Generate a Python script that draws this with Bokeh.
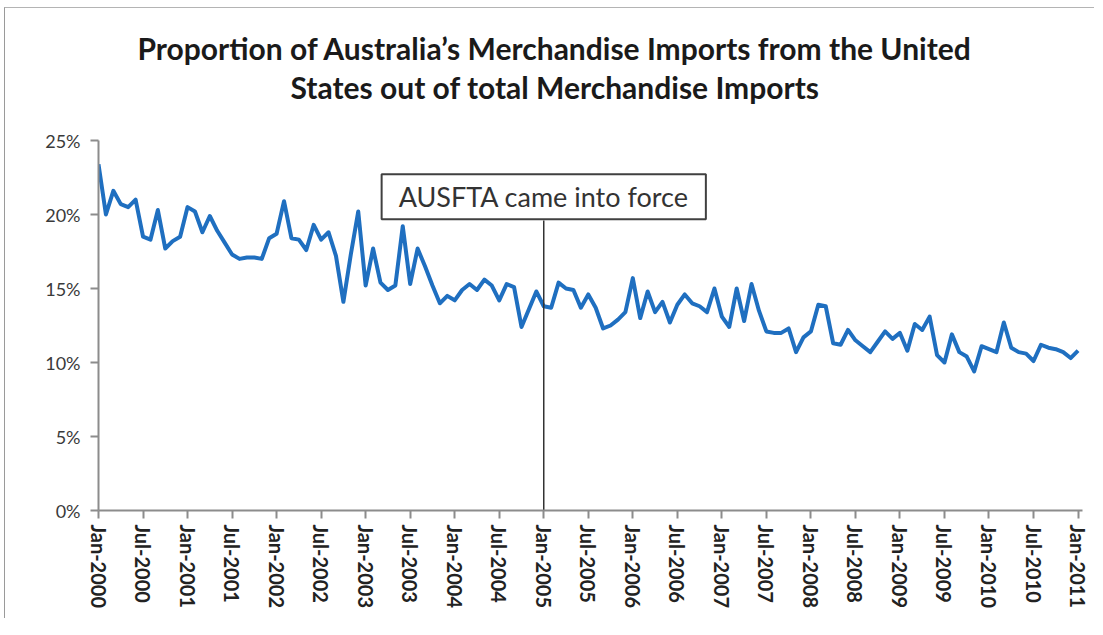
from bokeh.plotting import figure
from bokeh.models import Range1d, FixedTicker, Title, Label
from bokeh.embed import file_html
from bokeh.resources import INLINE

# ---- data (month index 0 = Jan-2000, 132 = Jan-2011) ----
months = list(range(133))
us_share_pct = [
    23.4, 20.0, 21.6, 20.7, 20.5, 21.0, 18.5, 18.3, 20.3, 17.7, 18.2, 18.5,   # 2000
    20.5, 20.2, 18.8, 19.9, 18.9, 18.1, 17.3, 17.0, 17.1, 17.1, 17.0, 18.4,   # 2001
    18.7, 20.9, 18.4, 18.3, 17.6, 19.3, 18.3, 18.8, 17.2, 14.1, 17.3, 20.2,   # 2002
    15.2, 17.7, 15.4, 14.9, 15.2, 19.2, 15.3, 17.7, 16.5, 15.2, 14.0, 14.5,   # 2003
    14.2, 14.9, 15.3, 14.9, 15.6, 15.2, 14.2, 15.3, 15.1, 12.4, 13.6, 14.8,   # 2004
    13.8, 13.7, 15.4, 15.0, 14.9, 13.7, 14.6, 13.7, 12.3, 12.5, 12.9, 13.4,   # 2005
    15.7, 13.0, 14.8, 13.4, 14.1, 12.7, 13.9, 14.6, 14.0, 13.8, 13.4, 15.0,   # 2006
    13.1, 12.4, 15.0, 12.8, 15.3, 13.5, 12.1, 12.0, 12.0, 12.3, 10.7, 11.7,   # 2007
    12.1, 13.9, 13.8, 11.3, 11.2, 12.2, 11.5, 11.1, 10.7, 11.4, 12.1, 11.6,   # 2008
    12.0, 10.8, 12.6, 12.2, 13.1, 10.5, 10.0, 11.9, 10.7, 10.4, 9.4, 11.1,    # 2009
    10.9, 10.7, 12.7, 11.0, 10.7, 10.6, 10.1, 11.2, 11.0, 10.9, 10.7, 10.3,   # 2010
    10.8,                                                                     # Jan 2011
]
tick_months = list(range(0, 133, 6))
tick_labels = []
for yr in range(2000, 2011):
    tick_labels += [f"Jan-{yr}", f"Jul-{yr}"]
tick_labels.append("Jan-2011")
y_ticks = [0, 5, 10, 15, 20, 25]
y_labels = ["0%", "5%", "10%", "15%", "20%", "25%"]

title_line1 = "Proportion of Australia\u2019s Merchandise Imports from the United"
title_line2 = "States out of total Merchandise Imports"
event_month = 60
event_text = "AUSFTA came into force"
event_box_center = 21.2
event_line_top = 19.6

FONT = "Lato"

p = figure(width=1090, height=611, output_backend="svg", toolbar_location=None,
           x_range=Range1d(0, 132.6), y_range=Range1d(0, 25),
           min_border_left=93, min_border_right=13, min_border_top=132,
           min_border_bottom=109)
p.styles = {"border-left": "1px solid #9a9a9a", "border-top": "1px solid #b4b4b4",
            "margin-left": "4px", "margin-top": "7px"}
p.title.visible = False

# spacer between plot and title (closest to the plot), then line 2, then line 1
p.add_layout(Title(text=" ", text_font_size="30px", standoff=0), "above")
p.add_layout(Title(text=title_line2, align="left", offset=197 - 5, text_font=FONT,
                   text_font_size="30px", text_font_style="bold",
                   text_color="#1a1a1a", standoff=2), "above")
p.add_layout(Title(text=title_line1, align="left", offset=44 - 5, text_font=FONT,
                   text_font_size="30px", text_font_style="bold",
                   text_color="#1a1a1a", standoff=0), "above")

p.xgrid.visible = False
p.ygrid.visible = False
p.outline_line_color = None
p.background_fill_color = "white"

for ax in (p.xaxis, p.yaxis):
    ax.axis_line_color = "#8c8c8c"
    ax.axis_line_width = 2
    ax.major_tick_line_color = "#8c8c8c"
    ax.major_tick_line_width = 2
    ax.major_tick_out = 8
    ax.major_tick_in = 0
    ax.minor_tick_line_color = None
    ax.major_label_text_font = FONT

p.xaxis.ticker = FixedTicker(ticks=tick_months)
p.xaxis.major_label_overrides = {m: s for m, s in zip(tick_months, tick_labels)}
p.xaxis.major_label_orientation = "vertical"
p.xaxis.major_label_text_font_size = "20px"
p.xaxis.major_label_text_font_style = "bold"
p.xaxis.major_label_text_color = "#222222"
p.xaxis.major_label_standoff = 6

p.yaxis.ticker = FixedTicker(ticks=y_ticks)
p.yaxis.major_label_overrides = {t: s for t, s in zip(y_ticks, y_labels)}
p.yaxis.major_label_text_font_size = "18px"
p.yaxis.major_label_text_color = "#3a3a3a"
p.yaxis.major_label_standoff = 10

p.line(months, us_share_pct, line_color="#1f6fc0", line_width=4, line_join="round")

p.segment(x0=[event_month], y0=[0], x1=[event_month], y1=[event_line_top],
          line_color="#333333", line_width=1.5)
p.add_layout(Label(x=event_month, y=event_box_center, text=event_text,
                   text_align="center", text_baseline="middle",
                   text_font=FONT, text_font_size="27px", text_color="#333333",
                   border_line_color="#404040", border_line_width=2,
                   background_fill_color="white", padding=(17, 6)))

open("out.html", "w").write(file_html(p, INLINE))
